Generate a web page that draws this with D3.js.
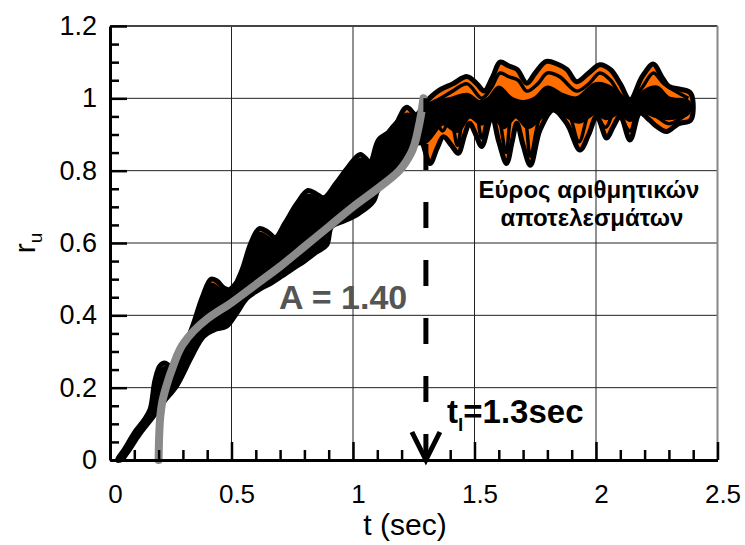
<!DOCTYPE html>
<html>
<head>
<meta charset="utf-8">
<script src="https://cdn.jsdelivr.net/npm/d3@7"></script>
<style>
  body { margin: 0; background: #fff; }
  text { font-family: Arial, "Liberation Sans", sans-serif; }
</style>
</head>
<body>
<div id="chart-area"></div>
<script>
// tick values
var xTicks = [0, 0.5, 1, 1.5, 2, 2.5];
var xMinor = [0.1, 0.2, 0.3, 0.4, 0.6, 0.7, 0.8, 0.9, 1.1, 1.2, 1.3, 1.4, 1.6, 1.7, 1.8, 1.9, 2.1, 2.2, 2.3, 2.4];
var yTicks = [0, 0.2, 0.4, 0.6, 0.8, 1, 1.2];
var yMinor = [0.05, 0.1, 0.15, 0.25, 0.3, 0.35, 0.45, 0.5, 0.55, 0.65, 0.7, 0.75, 0.85, 0.9, 0.95, 1.05, 1.1, 1.15];

// envelope of the numerical results [t, ru]
var upperEdge = [[0.03, 0.0], [0.06, 0.03], [0.10, 0.075], [0.14, 0.11], [0.165, 0.14], [0.185, 0.22], [0.205, 0.26],
    [0.225, 0.268], [0.245, 0.26], [0.27, 0.255], [0.30, 0.30], [0.34, 0.37], [0.38, 0.45], [0.415, 0.50], [0.44, 0.495],
    [0.47, 0.475], [0.50, 0.47], [0.54, 0.52], [0.58, 0.60], [0.615, 0.64], [0.65, 0.63], [0.68, 0.615], [0.72, 0.655],
    [0.77, 0.71], [0.815, 0.745], [0.85, 0.735], [0.88, 0.725], [0.93, 0.765], [0.98, 0.81], [1.03, 0.845], [1.07, 0.825],
    [1.105, 0.885], [1.165, 0.915], [1.22, 0.975], [1.26, 0.955], [1.30, 0.99], [1.35, 1.02], [1.41, 1.04], [1.47, 1.06],
    [1.51, 1.04], [1.54, 1.02], [1.575, 1.06], [1.605, 1.10], [1.64, 1.09], [1.675, 1.08], [1.715, 1.042], [1.75, 1.07],
    [1.795, 1.102], [1.84, 1.095], [1.88, 1.08], [1.92, 1.046], [1.97, 1.07], [2.016, 1.093], [2.06, 1.079], [2.10, 1.04],
    [2.14, 0.996], [2.19, 1.06], [2.236, 1.095], [2.27, 1.06], [2.30, 1.033], [2.35, 1.025], [2.39, 1.014]];
var lowerEdge = [[0.04, 0.0], [0.07, 0.02], [0.12, 0.07], [0.178, 0.12], [0.22, 0.16], [0.274, 0.205], [0.336, 0.286],
    [0.384, 0.341], [0.43, 0.36], [0.48, 0.37], [0.521, 0.406], [0.563, 0.447], [0.61, 0.47], [0.665, 0.49], [0.71, 0.51],
    [0.754, 0.53], [0.80, 0.55], [0.85, 0.575], [0.892, 0.595], [0.912, 0.645], [0.96, 0.66], [1.02, 0.68], [1.084, 0.715],
    [1.11, 0.765], [1.16, 0.80], [1.207, 0.835], [1.24, 0.86], [1.276, 0.885], [1.317, 0.82], [1.345, 0.86], [1.372, 0.894],
    [1.405, 0.87], [1.433, 0.848], [1.46, 0.90], [1.48, 0.931], [1.505, 0.90], [1.53, 0.867], [1.571, 0.95], [1.60, 0.88],
    [1.632, 0.82], [1.655, 0.88], [1.674, 0.931], [1.70, 0.87], [1.73, 0.815], [1.77, 0.913], [1.824, 0.968], [1.88, 0.93],
    [1.934, 0.857], [1.97, 0.90], [2.003, 0.95], [2.044, 0.89], [2.07, 0.92], [2.10, 0.95], [2.14, 0.885], [2.181, 0.959],
    [2.22, 0.94], [2.25, 0.922], [2.29, 0.908], [2.34, 0.93], [2.39, 0.94]];

// dense black core of the overlapping runs
var coreHi = [[0.04, 0.0], [0.10, 0.065], [0.165, 0.13], [0.19, 0.22], [0.225, 0.255], [0.27, 0.245], [0.34, 0.36],
    [0.415, 0.485], [0.47, 0.465], [0.54, 0.51], [0.615, 0.625], [0.68, 0.605], [0.815, 0.73], [0.88, 0.715], [1.03, 0.83],
    [1.07, 0.815], [1.105, 0.87], [1.22, 0.955], [1.26, 0.945], [1.30, 0.97], [1.35, 0.99], [1.41, 1.0], [1.47, 1.01],
    [1.52, 0.99], [1.56, 1.0], [1.60, 1.03], [1.65, 1.0], [1.70, 0.99], [1.75, 1.0], [1.80, 1.03], [1.86, 1.01], [1.92, 1.0],
    [2.0, 1.04], [2.06, 1.03], [2.14, 0.98], [2.2, 1.02], [2.25, 1.03], [2.30, 1.0], [2.38, 0.99]];
var coreLo = [[0.05, 0.0], [0.12, 0.075], [0.178, 0.13], [0.22, 0.17], [0.274, 0.215], [0.336, 0.295], [0.384, 0.35],
    [0.48, 0.38], [0.563, 0.455], [0.665, 0.50], [0.754, 0.54], [0.892, 0.605], [0.912, 0.65], [1.02, 0.69], [1.084, 0.725],
    [1.16, 0.81], [1.24, 0.87], [1.30, 0.88], [1.37, 0.93], [1.43, 0.91], [1.48, 0.95], [1.53, 0.93], [1.57, 0.96],
    [1.62, 0.92], [1.67, 0.95], [1.72, 0.92], [1.77, 0.945], [1.82, 0.97], [1.88, 0.95], [1.93, 0.935], [2.0, 0.96],
    [2.04, 0.945], [2.10, 0.96], [2.14, 0.94], [2.18, 0.965], [2.25, 0.95], [2.30, 0.945], [2.38, 0.96]];

// single runs crossing the orange lobes
var runLow = [[1.30, 0.90], [1.34, 0.93], [1.37, 0.91], [1.40, 0.95], [1.43, 0.87], [1.46, 0.96], [1.50, 0.97], [1.53, 0.89],
    [1.57, 0.99], [1.60, 0.95], [1.63, 0.85], [1.66, 0.97], [1.70, 0.96], [1.73, 0.84], [1.77, 0.95], [1.82, 0.99],
    [1.88, 0.97], [1.93, 0.88], [1.98, 0.97], [2.04, 0.92], [2.08, 0.97], [2.14, 0.91], [2.18, 0.98], [2.25, 0.95],
    [2.30, 0.93], [2.38, 0.96]];
var runHigh = [[1.30, 0.98], [1.36, 1.00], [1.41, 1.02], [1.47, 1.04], [1.53, 1.00], [1.57, 1.03], [1.605, 1.07], [1.64, 1.06],
    [1.68, 1.05], [1.715, 1.02], [1.76, 1.04], [1.80, 1.07], [1.85, 1.06], [1.92, 1.02], [1.97, 1.04], [2.016, 1.07],
    [2.06, 1.05], [2.10, 1.01], [2.14, 0.99], [2.19, 1.03], [2.236, 1.07], [2.28, 1.04], [2.38, 1.0]];

// fitted curve A = 1.40
var fitCurve = [[0.2, 0], [0.202, 0.06], [0.207, 0.12], [0.215, 0.16], [0.23, 0.2], [0.26, 0.26], [0.3, 0.32], [0.4, 0.39],
    [0.5, 0.435], [0.6, 0.485], [0.7, 0.535], [0.8, 0.59], [0.9, 0.645], [1.0, 0.70], [1.1, 0.75], [1.19, 0.80],
    [1.24, 0.85], [1.27, 0.92], [1.29, 1.0]];

var tLiq = 1.3;

var margin = { top: 26, right: 27.5, bottom: 85, left: 110 };
var width = 745 - margin.left - margin.right;
var height = 545 - margin.top - margin.bottom;

var svg = d3.select('#chart-area')
    .append('svg')
    .attr('width', 745)
    .attr('height', 545);

var g = svg.append('g')
    .attr('transform', 'translate(' + margin.left + ',' + margin.top + ')');

var x = d3.scaleLinear().domain([0, 2.5]).range([0, width]);
var y = d3.scaleLinear().domain([0, 1.2]).range([height, 0]);

// grid
g.selectAll('.vgrid')
    .data(xTicks.slice(1, -1))
    .enter()
    .append('line')
    .attr('x1', function (d) { return x(d); })
    .attr('x2', function (d) { return x(d); })
    .attr('y1', 0)
    .attr('y2', height)
    .attr('stroke', '#222')
    .attr('stroke-width', 1);

g.selectAll('.hgrid')
    .data(yTicks.slice(1, -1))
    .enter()
    .append('line')
    .attr('x1', 0)
    .attr('x2', width)
    .attr('y1', function (d) { return y(d); })
    .attr('y2', function (d) { return y(d); })
    .attr('stroke', '#222')
    .attr('stroke-width', 1);

// top and right frame
g.append('line').attr('x1', 0).attr('x2', width).attr('y1', 0).attr('y2', 0)
    .attr('stroke', '#444').attr('stroke-width', 2);
g.append('line').attr('x1', width).attr('x2', width).attr('y1', 0).attr('y2', height)
    .attr('stroke', '#888').attr('stroke-width', 2);

// band
var line = d3.line()
    .x(function (d) { return x(d[0]); })
    .y(function (d) { return y(d[1]); })
    .curve(d3.curveCatmullRomClosed.alpha(0.5));

var openLine = d3.line()
    .x(function (d) { return x(d[0]); })
    .y(function (d) { return y(d[1]); })
    .curve(d3.curveCatmullRom.alpha(0.5));

g.append('path')
    .attr('d', line(upperEdge.concat(lowerEdge.slice().reverse())))
    .attr('fill', '#ff6c00')
    .attr('stroke', '#000')
    .attr('stroke-width', 5)
    .attr('stroke-linejoin', 'round');

g.append('path')
    .attr('d', line(coreHi.concat(coreLo.slice().reverse())))
    .attr('fill', '#000')
    .attr('stroke', '#000')
    .attr('stroke-width', 4)
    .attr('stroke-linejoin', 'round');

g.selectAll('.run')
    .data([runLow, runHigh])
    .enter()
    .append('path')
    .attr('d', function (d) { return openLine(d); })
    .attr('fill', 'none')
    .attr('stroke', '#000')
    .attr('stroke-width', 3.5)
    .attr('stroke-linejoin', 'round');

// fitted curve
g.append('path')
    .attr('d', d3.line()
        .x(function (d) { return x(d[0]); })
        .y(function (d) { return y(d[1]); })
        .curve(d3.curveMonotoneY)(fitCurve))
    .attr('fill', 'none')
    .attr('stroke', '#8a8a8a')
    .attr('stroke-width', 8)
    .attr('stroke-linecap', 'round');

// liquefaction time marker
g.append('line')
    .attr('x1', x(tLiq)).attr('x2', x(tLiq))
    .attr('y1', y(0)).attr('y2', y(1.0))
    .attr('stroke', '#000')
    .attr('stroke-width', 5)
    .attr('stroke-dasharray', '26,32');

g.append('path')
    .attr('d', 'M' + (x(tLiq) - 14) + ',' + (y(0) - 28) + 'L' + x(tLiq) + ',' + y(0) + 'L' + (x(tLiq) + 14) + ',' + (y(0) - 28))
    .attr('fill', 'none')
    .attr('stroke', '#000')
    .attr('stroke-width', 5)
    .attr('stroke-linejoin', 'miter');

// axes
var yAxisCall = d3.axisLeft(y).tickValues(yTicks).tickSize(-17).tickSizeOuter(0).tickPadding(13)
    .tickFormat(function (d) { return d; });
var yAxis = g.append('g').attr('class', 'y-axis').call(yAxisCall);
g.append('g').call(d3.axisLeft(y).tickValues(yMinor).tickSize(-9).tickSizeOuter(0).tickFormat(''))
    .select('.domain').remove();

var xAxisCall = d3.axisBottom(x).tickValues(xTicks).tickSize(-18).tickSizeOuter(0).tickPadding(25)
    .tickFormat(function (d) { return d; });
var xAxis = g.append('g').attr('class', 'x-axis')
    .attr('transform', 'translate(0,' + height + ')')
    .call(xAxisCall);
g.append('g').attr('transform', 'translate(0,' + height + ')')
    .call(d3.axisBottom(x).tickValues(xMinor).tickSize(-10).tickSizeOuter(0).tickFormat(''))
    .select('.domain').remove();

g.selectAll('.tick line').attr('stroke', '#000').attr('stroke-width', 2.5);
g.selectAll('.domain').attr('stroke', '#000').attr('stroke-width', 3);
yAxis.selectAll('text').style('font-size', '27px').style('font-family', 'Arial, "Liberation Sans", sans-serif').attr('fill', '#000');
xAxis.selectAll('text').style('font-size', '26px').style('font-family', 'Arial, "Liberation Sans", sans-serif').attr('fill', '#000').attr('dx', 5);

// axis titles
svg.append('text')
    .attr('x', 405).attr('y', 535)
    .attr('text-anchor', 'middle')
    .style('font-size', '30px')
    .text('t (sec)');

var ylab = svg.append('text')
    .attr('transform', 'translate(35,243) rotate(-90)')
    .attr('text-anchor', 'middle')
    .style('font-size', '30px');
ylab.append('tspan').text('r');
ylab.append('tspan').attr('dy', 7).style('font-size', '19px').text('u');

// annotations
g.append('text')
    .attr('x', 279 - margin.left).attr('y', 309 - margin.top)
    .attr('fill', '#555')
    .style('font-size', '34px')
    .style('font-weight', 'bold')
    .text('A = 1.40');

var tl = g.append('text')
    .attr('x', 447 - margin.left).attr('y', 423 - margin.top)
    .style('font-size', '33px')
    .style('font-weight', 'bold');
tl.append('tspan').text('t');
tl.append('tspan').attr('dy', 8).style('font-size', '19px').text('l');
tl.append('tspan').attr('dy', -8).text('=1.3sec');

g.append('text')
    .attr('x', 589 - margin.left).attr('y', 198 - margin.top)
    .attr('text-anchor', 'middle')
    .style('font-size', '24px')
    .style('font-weight', 'bold')
    .text('Εύρος αριθμητικών');
g.append('text')
    .attr('x', 592 - margin.left).attr('y', 226 - margin.top)
    .attr('text-anchor', 'middle')
    .style('font-size', '24px')
    .style('font-weight', 'bold')
    .text('αποτελεσμάτων');
</script>
</body>
</html>
